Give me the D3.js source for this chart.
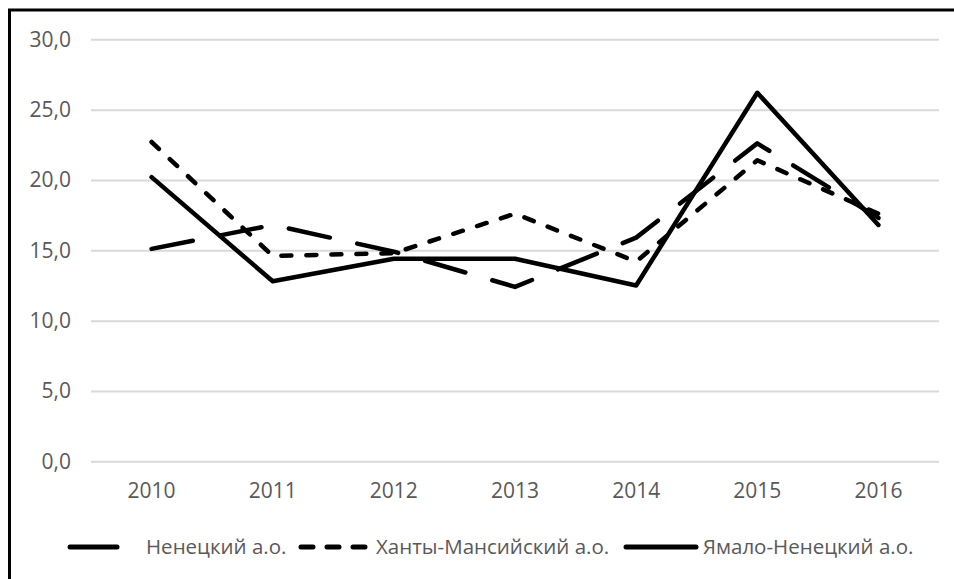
<!DOCTYPE html>
<html>
<head>
<meta charset="utf-8">
<script src="https://cdn.jsdelivr.net/npm/d3@7"></script>
<style>
  body { margin: 0; background: #fff; }
  text { font-family: "Open Sans", sans-serif; fill: #595959; }
</style>
</head>
<body>
<svg id="chart"></svg>
<script>
const width = 954;
const height = 579;

// data
const years = ["2010", "2011", "2012", "2013", "2014", "2015", "2016"];
const nenets = [15.1, 16.8, 14.9, 12.4, 15.9, 22.6, 17.3];
const khanty = [22.7, 14.6, 14.8, 17.6, 14.2, 21.4, 17.6];
const yamal = [20.2, 12.8, 14.4, 14.4, 12.5, 26.2, 16.8];
const seriesNames = ["Ненецкий а.о.", "Ханты-Мансийский а.о.", "Ямало-Ненецкий а.о."];
const yTicks = [0, 5, 10, 15, 20, 25, 30];

const series = [
  { name: seriesNames[0], values: nenets, dash: "42,28" },
  { name: seriesNames[1], values: khanty, dash: "10,15" },
  { name: seriesNames[2], values: yamal, dash: null }
];

const svg = d3.select("#chart")
              .attr("width", width)
              .attr("height", height);

// outer frame
svg.append("rect")
   .attr("x", 9.5)
   .attr("y", 10)
   .attr("width", width + 20)
   .attr("height", height + 20)
   .attr("fill", "none")
   .attr("stroke", "#000")
   .attr("stroke-width", 3);

const xScale = d3.scaleBand()
                 .domain(years)
                 .range([91, 939])
                 .padding(0);
const yScale = d3.scaleLinear()
                 .domain([0, 30])
                 .range([461.3, 39.3]);

const fmt = d => d.toFixed(1).replace(".", ",");

const yAxis = d3.axisLeft(yScale)
                .tickValues(yTicks)
                .tickFormat(fmt)
                .tickSize(-(939 - 91))
                .tickPadding(20);

const gy = svg.append("g")
              .attr("id", "y-axis")
              .attr("transform", "translate(91, 0)")
              .call(yAxis);
gy.select(".domain").remove();
gy.selectAll(".tick line").attr("stroke", "#d9d9d9").attr("stroke-width", 2);
gy.selectAll(".tick text")
  .attr("font-size", 21)
  .style("font-family", "'Open Sans', sans-serif")
  .attr("fill", "#595959");

const xAxis = d3.axisBottom(xScale).tickSize(0).tickPadding(22);
const gx = svg.append("g")
              .attr("id", "x-axis")
              .attr("transform", "translate(0, 461.3)")
              .call(xAxis);
gx.select(".domain").remove();
gx.selectAll(".tick text")
  .attr("font-size", 21)
  .style("font-family", "'Open Sans', sans-serif")
  .attr("fill", "#595959");

const line = d3.line()
               .x((d, i) => xScale(years[i]) + xScale.bandwidth() / 2)
               .y(d => yScale(d));

svg.selectAll(".series")
   .data(series)
   .enter()
   .append("path")
   .attr("class", "series")
   .attr("d", d => line(d.values))
   .attr("fill", "none")
   .attr("stroke", "#000")
   .attr("stroke-width", 4.5)
   .attr("stroke-linecap", "round")
   .attr("stroke-linejoin", "round")
   .attr("stroke-dasharray", d => d.dash);

// legend
const legendY = 547;
const legendItems = [
  { sx: 70, ex: 117, tx: 146 },
  { sx: 301, ex: 366, tx: 376 },
  { sx: 626, ex: 696, tx: 703 }
];
const legendDash = ["48,0", "12,14", null];

const lg = svg.append("g").attr("class", "legend");
legendItems.forEach((it, i) => {
  lg.append("line")
    .attr("x1", it.sx).attr("x2", it.ex)
    .attr("y1", legendY).attr("y2", legendY)
    .attr("stroke", "#000")
    .attr("stroke-width", 5)
    .attr("stroke-linecap", "round")
    .attr("stroke-dasharray", legendDash[i]);
  lg.append("text")
    .attr("x", it.tx)
    .attr("y", legendY)
    .attr("dy", "0.35em")
    .attr("font-size", 20.5)
    .text(series[i].name);
});
</script>
</body>
</html>
